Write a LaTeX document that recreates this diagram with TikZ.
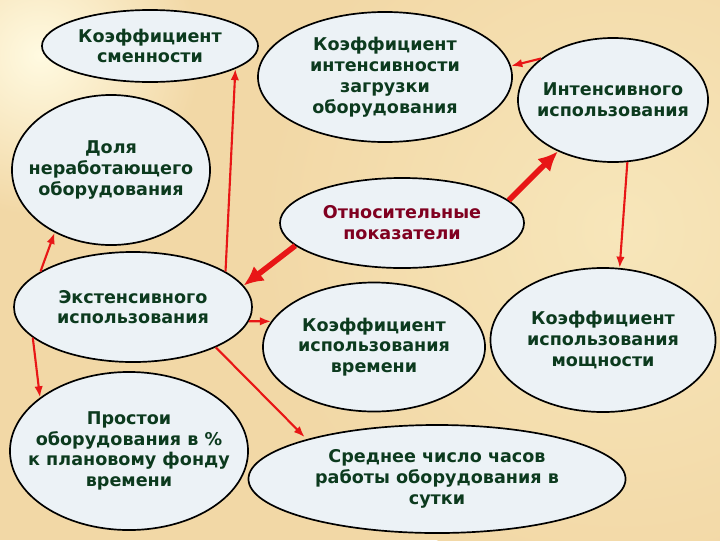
\documentclass[tikz,border=0pt]{standalone}
\usepackage{fontspec}
\setmainfont{DejaVu Sans}
\usetikzlibrary{shapes.geometric, arrows.meta}

\definecolor{sand}{RGB}{242,216,166}
\definecolor{sandlight}{RGB}{255,250,225}
\definecolor{cream}{RGB}{247,230,186}
\definecolor{bubblefill}{RGB}{236,242,246}
\definecolor{leaf}{RGB}{12,58,30}
\definecolor{wine}{RGB}{128,0,32}
\definecolor{arrowred}{RGB}{232,22,22}

\begin{document}
\begin{tikzpicture}[> = {Latex[length = 8pt, width = 6pt]}, x = 0.025cm, y = -0.025cm,
	every node/.style = {font = \fontsize{12.5}{14.8}\selectfont\bfseries, text = leaf},
	bubble/.style = {ellipse, draw = black, line width = 1.2pt, fill = bubblefill, align = center,
		inner xsep = -13pt, inner ysep = 0pt},
	link/.style = {->, draw = arrowred, line width = 1.5pt},
	mainlink/.style = {-{Latex[length = 14pt, width = 13pt]}, draw = arrowred, line width = 4pt}]

	% Background

	\useasboundingbox (0, 0) rectangle (720, 540);
	\fill [sand] (0, 0) rectangle (720, 540);
	\shade [inner color = cream, outer color = sand] (620, 230) circle (9cm);
	\shade [inner color = sandlight, outer color = sand] (40, 55) circle (4cm);

	% Ellipses, top row

	\node [bubble, minimum width = 5.4cm, minimum height = 1.8cm] (smen) at (150, 46) {Коэффициент\\сменности};
	\node [bubble, minimum width = 6.35cm, minimum height = 3.25cm] (zagr) at (385, 77) {Коэффициент\\интенсивности\\загрузки\\оборудования};
	\node [bubble, minimum width = 4.75cm, minimum height = 3.1cm] (intens) at (613, 100) {Интенсивного\\использования};

	% Ellipses, middle

	\node [bubble, minimum width = 4.95cm, minimum height = 3.75cm] (dolya) at (111, 170) {Доля\\неработающего\\оборудования};
	\node [bubble, minimum width = 6.1cm, minimum height = 2.25cm, text = wine] (otnos) at (402, 223) {Относительные\\показатели};
	\node [bubble, minimum width = 5.95cm, minimum height = 2.75cm] (extens) at (133, 307) {Экстенсивного\\использования};
	\node [bubble, minimum width = 5.55cm, minimum height = 3.225cm] (vrem) at (374, 347) {Коэффициент\\использования\\времени};
	\node [bubble, minimum width = 5.625cm, minimum height = 3.6cm] (moshn) at (603, 340) {Коэффициент\\использования\\мощности};

	% Ellipses, bottom row

	\node [bubble, minimum width = 5.95cm, minimum height = 3.95cm] (prost) at (129, 451) {Простои\\оборудования в \%\\к плановому фонду\\времени};
	\node [bubble, minimum width = 9.425cm, minimum height = 2.7cm] (chasy) at (437, 479) {Среднее число часов\\работы оборудования в\\сутки};

	% Arrows from the main ellipse

	\draw [mainlink] (otnos.12) -- (intens.223);
	\draw [mainlink] (otnos.192) -- (extens.11);

	% Thin arrows

	\draw [link] (intens.150) -- (zagr.5);
	\draw [link] (intens.283) -- (moshn.77);
	\draw [link] (extens.21) -- (smen.-15);
	\draw [link] (extens.159) -- (dolya.228);
	\draw [link] (extens.197) -- (prost.149);
	\draw [link] (extens.-7) -- (vrem.166);
	\draw [link, shorten > = 2pt] (extens.-26) -- (chasy.163);

\end{tikzpicture}
\end{document}
